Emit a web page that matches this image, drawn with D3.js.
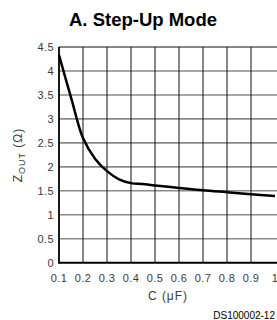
<!DOCTYPE html>
<html>
<head>
<meta charset="utf-8">
<script src="https://cdn.jsdelivr.net/npm/d3@7"></script>
<style>
  body { margin: 0; background: #fff; }
  svg { display: block; }
  .tick-label { font-family: "Liberation Sans", Arial, sans-serif; font-size: 11px; fill: #3a3a3a; letter-spacing: 0.4px; }
  .axis-title { font-family: "Liberation Sans", Arial, sans-serif; font-size: 12px; fill: #3a3a3a; letter-spacing: 1px; }
</style>
</head>
<body>
<div id="chart"></div>
<script>
const capacitance = [0.1, 0.15, 0.2, 0.25, 0.3, 0.35, 0.4, 0.45, 0.5, 0.6, 0.7, 0.8, 0.9, 1.0];
const zout = [4.33, 3.45, 2.6, 2.17, 1.91, 1.74, 1.66, 1.64, 1.61, 1.56, 1.51, 1.47, 1.43, 1.39];
const xTicks = [0.1, 0.2, 0.3, 0.4, 0.5, 0.6, 0.7, 0.8, 0.9, 1];
const yTicks = [0, 0.5, 1, 1.5, 2, 2.5, 3, 3.5, 4, 4.5];

const width = 277, height = 320;
const svg = d3.select('#chart').append('svg')
    .attr('width', width)
    .attr('height', height);

const x = d3.scaleLinear().domain([0.1, 1]).range([59, 275]);
const y = d3.scaleLinear().domain([0, 4.5]).range([262.7, 47]);

// title
svg.append('text')
    .attr('x', 143).attr('y', 26)
    .attr('text-anchor', 'middle')
    .style('font-family', '"Liberation Sans", Arial, sans-serif')
    .style('font-weight', 'bold')
    .style('font-size', '18.5px')
    .text('A. Step-Up Mode');

// horizontal grid
svg.append('g').selectAll('line')
    .data(yTicks.filter(d => d > 0))
    .enter().append('line')
    .attr('x1', x(0.1)).attr('x2', width)
    .attr('y1', d => y(d)).attr('y2', d => y(d))
    .attr('stroke', d => d === 4.5 ? '#111' : '#8a8a8a')
    .attr('stroke-width', d => d === 4.5 ? 1.2 : 1.6);

// vertical grid (no line at 1.0, the picture ends there)
svg.append('g').selectAll('line')
    .data(xTicks.filter(d => d > 0.1 && d < 1))
    .enter().append('line')
    .attr('x1', d => x(d)).attr('x2', d => x(d))
    .attr('y1', y(4.5)).attr('y2', y(0))
    .attr('stroke', '#111')
    .attr('stroke-width', 1);

// axes
svg.append('line')
    .attr('x1', x(0.1)).attr('x2', x(0.1))
    .attr('y1', y(4.5)).attr('y2', y(0) + 1)
    .attr('stroke', '#000').attr('stroke-width', 1.8);
svg.append('line')
    .attr('x1', x(0.1)).attr('x2', width)
    .attr('y1', y(0)).attr('y2', y(0))
    .attr('stroke', '#000').attr('stroke-width', 2);

// tick labels
svg.append('g').selectAll('text')
    .data(yTicks)
    .enter().append('text')
    .attr('class', 'tick-label')
    .attr('x', 54)
    .attr('y', d => y(d) + 4)
    .attr('text-anchor', 'end')
    .text(d => d);

svg.append('g').selectAll('text')
    .data(xTicks)
    .enter().append('text')
    .attr('class', 'tick-label')
    .attr('x', d => x(d))
    .attr('y', 282)
    .attr('text-anchor', 'middle')
    .text(d => d);

// axis titles
const yTitle = svg.append('text')
    .attr('class', 'axis-title')
    .attr('transform', 'translate(22,155) rotate(-90)')
    .attr('text-anchor', 'middle');
yTitle.append('tspan').text('Z');
yTitle.append('tspan').attr('dy', 3).style('font-size', '9px').text('OUT');
yTitle.append('tspan').attr('dy', -3).text(' (Ω)');

svg.append('text')
    .attr('class', 'axis-title')
    .attr('x', 168).attr('y', 300)
    .attr('text-anchor', 'middle')
    .text('C (μF)');

svg.append('text')
    .attr('x', 275).attr('y', 319)
    .attr('text-anchor', 'end')
    .style('font-family', '"Liberation Sans", Arial, sans-serif')
    .style('font-size', '10px')
    .text('DS100002-12');

// curve
const line = d3.line()
    .x((d, i) => x(capacitance[i]))
    .y(d => y(d))
    .curve(d3.curveCatmullRom.alpha(0.5));

svg.append('path')
    .datum(zout)
    .attr('d', line)
    .attr('fill', 'none')
    .attr('stroke', '#000')
    .attr('stroke-width', 2.5);
</script>
</body>
</html>
